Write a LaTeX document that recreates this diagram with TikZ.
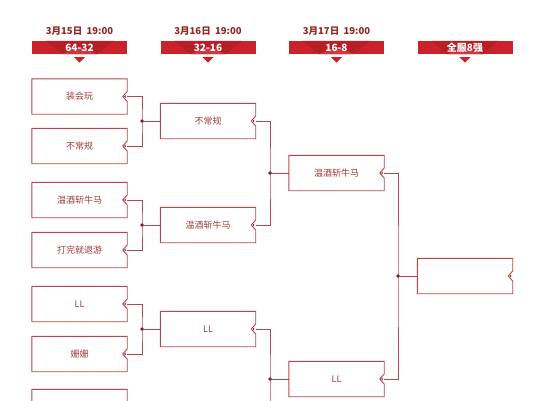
\documentclass[tikz,border=0pt]{standalone}
\usepackage{fontspec}
\setmainfont{Noto Sans CJK SC}
\newfontfamily\cjk{Noto Sans CJK SC}
\definecolor{barred}{HTML}{C8232B}
\definecolor{bardark}{HTML}{B81E25}
\definecolor{datered}{HTML}{8E2A26}
\definecolor{boxred}{HTML}{B8474A}
\definecolor{txtred}{HTML}{A03C3A}
\definecolor{dotred}{HTML}{8B1A1A}
\tikzset{
  x=1pt, y=-1pt,
  team/.style={minimum width=95pt, minimum height=35pt, inner sep=0pt, font=\cjk\fontsize{9}{10}\selectfont, text=txtred},
  conn/.style={draw=boxred, line width=0.75pt},
  jdot/.style={circle, fill=dotred, inner sep=0pt, minimum size=3.6pt},
  datetxt/.style={font=\cjk\bfseries\fontsize{9.5}{10}\selectfont, text=datered},
  bartxt/.style={font=\cjk\bfseries\fontsize{10}{10}\selectfont, text=white},
}
\newcommand{\notchbox}[1]{%
  \draw[boxred, line width=0.9pt, line join=miter] (#1.north west) -- (#1.north east) -- ([yshift=5pt]#1.east) -- ([xshift=-4.5pt]#1.east) -- ([yshift=-5pt]#1.east) -- (#1.south east) -- (#1.south west) -- cycle;
  \fill[dotred] ([xshift=-3.2pt]#1.east) -- ([xshift=-1.6pt,yshift=1.4pt]#1.east) -- ([xshift=-1.6pt,yshift=-1.4pt]#1.east) -- cycle;}
\newcommand{\header}[4]{% name, x center, date, label
  \node[minimum width=95pt, minimum height=13pt, inner sep=0pt, fill=barred] (#1) at (#2,47.5) {};
  \fill[bardark] ([xshift=14pt]#1.north west) -- ([xshift=-14pt]#1.north east) -- ([xshift=-30pt]#1.south east) -- ([xshift=30pt]#1.south west) -- cycle;
  \fill[barred!90!white] ([xshift=30pt]#1.south west) -- ([xshift=47.5pt,yshift=-6pt]#1.north west) -- ([xshift=-30pt]#1.south east) -- cycle;
  \node[bartxt] at (#1.center) {#4};
  \fill[barred] ([yshift=-3pt,xshift=-5.5pt]#1.south) -- ([yshift=-3pt,xshift=5.5pt]#1.south) -- ([yshift=-8.5pt]#1.south) -- cycle;
  \if\relax\detokenize{#3}\relax\else\node[datetxt] (#1d) at (#2,31) {#3};\fi}
\begin{document}
\begin{tikzpicture}
\useasboundingbox (0,0) rectangle (538,400);
\clip (0,0) rectangle (538,400);
\fill[white] (0,0) rectangle (538,400);
% headers
\header{h1}{79.5}{3月15日\ \ 19:00}{64-32}
\header{h2}{208}{3月16日\ \ 19:00}{32-16}
\header{h3}{336.5}{3月17日\ \ 19:00}{16-8}
\header{h4}{465}{}{全服8强}
% column 1
\node[team] (a1) at (79.5,96.5) {装会玩};
\node[team] (a2) at (79.5,146) {不常规};
\node[team] (a3) at (79.5,200) {温酒斩牛马};
\node[team] (a4) at (79.5,250) {打完就退游};
\node[team] (a5) at (79.5,304) {LL};
\node[team] (a6) at (79.5,354) {姗姗};
\node[team] (a7) at (79.5,407) {};
% column 2
\node[team] (b1) at (208,121) {不常规};
\node[team] (b2) at (208,225) {温酒斩牛马};
\node[team] (b3) at (208,329) {LL};
% column 3
\node[team] (c1) at (336.5,173) {温酒斩牛马};
\node[team] (c2) at (336.5,379) {LL};
% column 4
\node[team] (d1) at (465,276) {};
\foreach \n in {a1,a2,a3,a4,a5,a6,a7,b1,b2,b3,c1,c2,d1} {\notchbox{\n}}
% junctions
\coordinate (j1) at (142,121);
\coordinate (j2) at (142,225);
\coordinate (j3) at (142,329);
\coordinate (k1) at (270,173);
\coordinate (k2) at (270,379);
\coordinate (k2b) at (270,430);
\coordinate (m1) at (398,276);
% connectors
\draw[conn] (a1.east) -| (j1) |- (a2.east);
\draw[conn] (j1) -- (b1.west);
\draw[conn] (a3.east) -| (j2) |- (a4.east);
\draw[conn] (j2) -- (b2.west);
\draw[conn] (a5.east) -| (j3) |- (a6.east);
\draw[conn] (j3) -- (b3.west);
\draw[conn] (b1.east) -| (k1) |- (b2.east);
\draw[conn] (k1) -- (c1.west);
\draw[conn] (b3.east) -| (k2) -- (k2b);
\draw[conn] (k2) -- (c2.west);
\draw[conn] (c1.east) -| (m1) |- (c2.east);
\draw[conn] (m1) -- (d1.west);
\foreach \j in {j1,j2,j3,k1,k2,m1} {\node[jdot] at (\j) {};}
\end{tikzpicture}
\end{document}
